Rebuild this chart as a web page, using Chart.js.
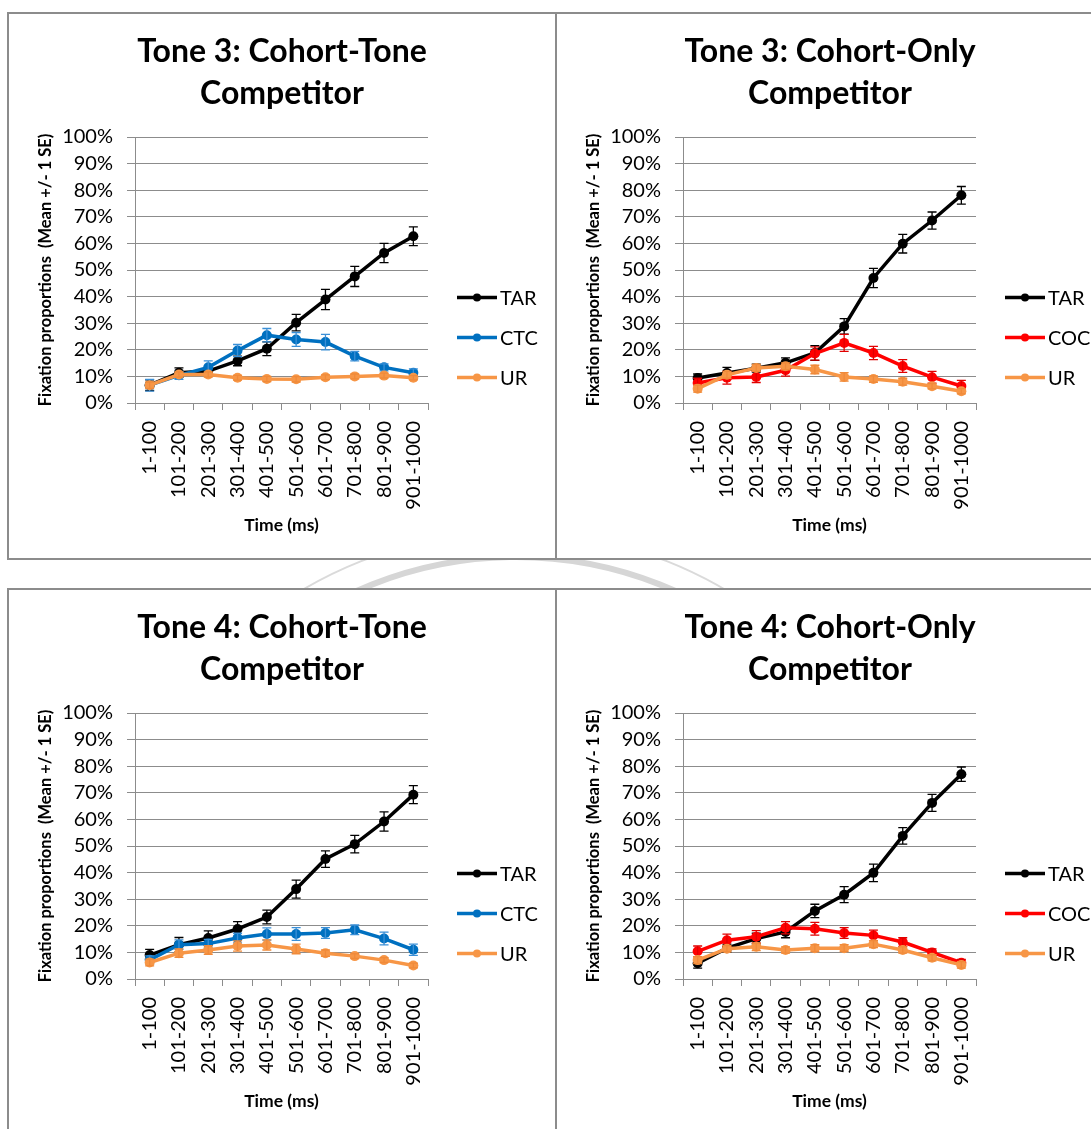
<!DOCTYPE html>
<html>
<head>
<meta charset="utf-8">
<title>Fixation proportions by time window</title>
<script src="https://cdn.jsdelivr.net/npm/chart.js@4.4.1/dist/chart.umd.min.js"></script>
<style>
  html, body { margin: 0; padding: 0; background: #fff; overflow: hidden; }
  body { width: 1091px; height: 1129px; position: relative; }
  .ring { position: absolute; border-radius: 50%; box-sizing: border-box; border-style: solid; z-index: 0; }
  .panel { position: absolute; width: 550px; height: 548px; box-sizing: border-box;
           border: 2px solid #8c8c8c; background: #fff; z-index: 1; }
  canvas { position: absolute; z-index: 2; }
</style>
</head>
<body>
<div class="ring" style="left:123px; top:554px; width:786px; height:786px; border-width:6px; border-color:#d6d6d6;"></div>
<div class="ring" style="left:98px; top:531px; width:832px; height:832px; border-width:2px; border-color:#dadada;"></div>

<div class="panel" style="left:7px; top:12px;"></div>
<div class="panel" style="left:555px; top:12px;"></div>
<div class="panel" style="left:7px; top:588px;"></div>
<div class="panel" style="left:555px; top:588px;"></div>

<canvas id="t3ct" width="548" height="546" style="left:8px; top:13px;"></canvas>
<canvas id="t3co" width="548" height="546" style="left:556px; top:13px;"></canvas>
<canvas id="t4ct" width="548" height="546" style="left:8px; top:589px;"></canvas>
<canvas id="t4co" width="548" height="546" style="left:556px; top:589px;"></canvas>

<script>
// Time windows (ms)
const timeBins = ['1-100', '101-200', '201-300', '301-400', '401-500',
                  '501-600', '601-700', '701-800', '801-900', '901-1000'];
const yTicks = [0, 10, 20, 30, 40, 50, 60, 70, 80, 90, 100];

// Tone 3, cohort-tone competitor: mean fixation % and SE
const t3ctTar   = [6.7, 11.4, 12.0, 15.8, 20.4, 30.2, 38.9, 47.6, 56.4, 62.7];
const t3ctTarSe = [2.0, 1.8, 1.5, 1.8, 2.6, 3.1, 3.8, 3.8, 3.6, 3.5];
const t3ctCtc   = [6.7, 10.4, 13.4, 19.7, 25.5, 23.9, 22.9, 17.6, 13.4, 11.4];
const t3ctCtcSe = [2.2, 1.5, 2.4, 2.3, 2.5, 2.6, 2.9, 1.8, 1.3, 1.4];
const t3ctUr    = [6.7, 10.7, 10.7, 9.5, 9.0, 8.9, 9.7, 10.0, 10.3, 9.5];
const t3ctUrSe  = [1.2, 1.0, 1.0, 0.9, 1.0, 1.0, 0.9, 0.9, 0.9, 0.8];

// Tone 3, cohort-only competitor
const t3coTar   = [9.4, 11.3, 13.1, 15.1, 18.8, 28.8, 47.0, 59.9, 68.6, 78.1];
const t3coTarSe = [1.5, 2.1, 1.5, 1.9, 2.8, 2.9, 3.6, 3.5, 3.2, 3.3];
const t3coCoc   = [7.5, 9.5, 9.8, 12.3, 18.6, 22.6, 18.8, 13.9, 9.7, 6.4];
const t3coCocSe = [1.8, 2.4, 2.1, 2.2, 2.5, 3.2, 2.5, 2.4, 2.2, 2.1];
const t3coUr    = [5.4, 10.6, 13.2, 13.8, 12.6, 9.8, 9.0, 8.0, 6.3, 4.4];
const t3coUrSe  = [1.3, 1.3, 1.3, 1.3, 1.6, 1.6, 1.2, 1.3, 1.0, 1.0];

// Tone 4, cohort-tone competitor
const t4ctTar   = [9.0, 12.9, 15.4, 18.8, 23.3, 33.8, 45.1, 50.7, 59.2, 69.3];
const t4ctTarSe = [2.1, 2.7, 2.7, 2.8, 2.6, 3.4, 3.1, 3.3, 3.6, 3.4];
const t4ctCtc   = [7.2, 12.9, 13.3, 15.4, 16.9, 16.9, 17.3, 18.5, 15.2, 11.0];
const t4ctCtcSe = [1.5, 1.8, 1.6, 1.8, 2.3, 2.4, 2.0, 1.8, 2.4, 2.1];
const t4ctUr    = [6.2, 9.7, 10.9, 12.4, 12.8, 11.3, 9.7, 8.6, 7.1, 5.1];
const t4ctUrSe  = [1.3, 1.6, 1.6, 1.9, 1.9, 1.8, 1.2, 0.9, 0.9, 0.9];

// Tone 4, cohort-only competitor
const t4coTar   = [5.9, 11.6, 15.2, 17.7, 25.6, 31.7, 39.9, 53.8, 66.2, 77.0];
const t4coTarSe = [1.8, 1.5, 2.0, 2.2, 2.5, 3.0, 3.3, 3.1, 3.2, 2.7];
const t4coCoc   = [10.4, 14.6, 15.9, 19.3, 18.9, 17.3, 16.4, 13.9, 10.0, 6.1];
const t4coCocSe = [2.0, 2.3, 2.3, 2.3, 2.4, 2.0, 2.0, 1.6, 1.3, 1.3];
const t4coUr    = [7.1, 11.4, 12.1, 10.9, 11.6, 11.6, 13.1, 10.9, 8.0, 5.3];
const t4coUrSe  = [1.3, 1.2, 1.4, 1.2, 1.3, 1.3, 1.3, 1.2, 1.2, 1.2];

const COLORS = {
  TAR: { line: '#000000', bar: '#000000' },
  CTC: { line: '#0070C0', bar: '#3a8fd6' },
  COC: { line: '#FF0000', bar: '#e00000' },
  UR:  { line: '#F79646', bar: '#f08a3a' }
};

Chart.defaults.font.family = 'Lato, "Open Sans", sans-serif';
Chart.defaults.color = '#000';

// Vertical +/- SE whiskers with caps, positioned from the y scale
const errorBars = {
  id: 'errorBars',
  afterDatasetDraw(chart, args) {
    const ds = chart.data.datasets[args.index];
    if (!ds.errors) return;
    const y = chart.scales.y;
    const ctx = chart.ctx;
    ctx.save();
    ctx.strokeStyle = ds.errorColor;
    ctx.lineWidth = 1.3;
    args.meta.data.forEach((pt, i) => {
      const v = ds.data[i], e = ds.errors[i];
      const hi = y.getPixelForValue(v + e), lo = y.getPixelForValue(v - e);
      const x = pt.x;
      ctx.beginPath();
      ctx.moveTo(x, hi); ctx.lineTo(x, lo);
      ctx.moveTo(x - 4.5, hi); ctx.lineTo(x + 4.5, hi);
      ctx.moveTo(x - 4.5, lo); ctx.lineTo(x + 4.5, lo);
      ctx.stroke();
    });
    ctx.restore();
  }
};

// Legend on the right: line sample with a marker, then the series name
const sideLegend = {
  id: 'sideLegend',
  afterDraw(chart) {
    const ctx = chart.ctx;
    const x0 = chart.chartArea.right + 29;
    const x1 = x0 + 40;
    const yStart = 284.5, gap = 40;
    ctx.save();
    chart.data.datasets.forEach((ds, i) => {
      const yy = yStart + i * gap;
      ctx.strokeStyle = ds.borderColor;
      ctx.lineWidth = 3.5;
      ctx.beginPath();
      ctx.moveTo(x0, yy); ctx.lineTo(x1, yy);
      ctx.stroke();
      ctx.fillStyle = ds.pointBackgroundColor;
      ctx.beginPath();
      ctx.arc((x0 + x1) / 2, yy, 4, 0, Math.PI * 2);
      ctx.fill();
      ctx.fillStyle = '#000';
      ctx.font = '20px Lato, "Open Sans", sans-serif';
      ctx.textBaseline = 'middle';
      ctx.textAlign = 'left';
      ctx.fillText(ds.label, x1 + 3, yy + 1);
    });
    ctx.restore();
  }
};

function series(label, data, errors, order) {
  const c = COLORS[label];
  return {
    label, data, errors, order,
    errorColor: c.bar,
    borderColor: c.line,
    backgroundColor: c.line,
    pointBackgroundColor: c.line,
    pointBorderColor: c.line,
    borderWidth: 3.5,
    pointRadius: 5,
    pointBorderWidth: 0,
    tension: 0
  };
}

function makeChart(id, titleLines, datasets) {
  new Chart(document.getElementById(id), {
    type: 'line',
    data: { labels: timeBins, datasets },
    plugins: [errorBars, sideLegend],
    options: {
      responsive: false,
      animation: false,
      devicePixelRatio: 1,
      layout: { padding: 0 },
      plugins: {
        legend: { display: false },
        tooltip: { enabled: false },
        title: {
          display: true,
          text: titleLines,
          font: { size: 32, weight: 'bold', lineHeight: 1.3125 },
          color: '#000',
          padding: { top: 18, bottom: 22 }
        }
      },
      scales: {
        x: {
          type: 'category',
          offset: true,
          afterFit(s) { s.height = 156; },
          grid: { display: true, drawOnChartArea: false, drawTicks: true, tickLength: 7,
                  offset: true, color: '#8c8c8c', lineWidth: 1 },
          border: { display: true, color: '#8c8c8c', width: 1 },
          ticks: { autoSkip: false, minRotation: 90, maxRotation: 90, padding: 11,
                   font: { size: 20 }, color: '#000' },
          title: { display: true, text: 'Time (ms)', font: { size: 17.5, weight: 'bold' },
                   color: '#000', padding: { top: 0, bottom: 23 } }
        },
        y: {
          min: 0, max: 100,
          afterFit(s) { s.width = 127; },
          afterBuildTicks(s) { s.ticks = yTicks.map(v => ({ value: v })); },
          grid: { color: '#8c8c8c', lineWidth: 1, drawTicks: true, tickLength: 8 },
          border: { display: true, color: '#8c8c8c', width: 1 },
          ticks: { autoSkip: false, padding: 14, font: { size: 20 }, color: '#000',
                   callback: v => v + '%' },
          title: { display: true, text: 'Fixation proportions  (Mean +/- 1 SE)',
                   font: { size: 16.5, weight: 'bold' }, color: '#000',
                   padding: { top: 28, bottom: 0 } }
        },
        // empty right-hand band that keeps room for the legend
        legendBand: {
          type: 'linear',
          position: 'right',
          min: 0, max: 1,
          afterFit(s) { s.width = 128; },
          grid: { display: false, drawTicks: false },
          border: { display: false },
          ticks: { display: false }
        }
      }
    }
  });
}

makeChart('t3ct', ['Tone 3: Cohort-Tone', 'Competitor'], [
  series('TAR', t3ctTar, t3ctTarSe, 3),
  series('CTC', t3ctCtc, t3ctCtcSe, 2),
  series('UR',  t3ctUr,  t3ctUrSe,  1)
]);
makeChart('t3co', ['Tone 3: Cohort-Only', 'Competitor'], [
  series('TAR', t3coTar, t3coTarSe, 3),
  series('COC', t3coCoc, t3coCocSe, 2),
  series('UR',  t3coUr,  t3coUrSe,  1)
]);
makeChart('t4ct', ['Tone 4: Cohort-Tone', 'Competitor'], [
  series('TAR', t4ctTar, t4ctTarSe, 3),
  series('CTC', t4ctCtc, t4ctCtcSe, 2),
  series('UR',  t4ctUr,  t4ctUrSe,  1)
]);
makeChart('t4co', ['Tone 4: Cohort-Only', 'Competitor'], [
  series('TAR', t4coTar, t4coTarSe, 3),
  series('COC', t4coCoc, t4coCocSe, 2),
  series('UR',  t4coUr,  t4coUrSe,  1)
]);
</script>
</body>
</html>
